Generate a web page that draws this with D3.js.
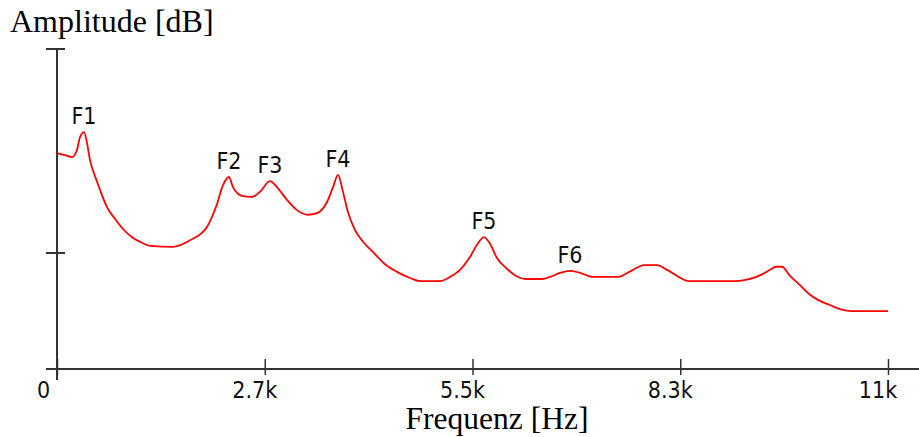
<!DOCTYPE html>
<html>
<head>
<meta charset="utf-8">
<script src="https://cdn.jsdelivr.net/npm/d3@7/dist/d3.min.js"></script>
<style>
  html, body { margin: 0; padding: 0; background: #fff; }
  svg { display: block; }
</style>
</head>
<body>
<div id="chart"></div>
<script>

// spectrum envelope (Hz / dB)
var freqs = [0, 106, 199, 265, 305, 358, 398, 438, 504, 570, 663, 769, 876, 995, 1101, 1234, 1539, 1765, 1990,
	2123, 2202, 2282, 2335, 2454, 2587, 2693, 2826, 2919, 3051, 3184, 3330, 3449, 3582, 3662, 3728,
	3794, 3861, 3954, 4060, 4192, 4352, 4511, 4683, 4816, 5081, 5214, 5347, 5479, 5572, 5665, 5745,
	5837, 5970, 6116, 6222, 6434, 6541, 6673, 6806, 6939, 7111, 7443, 7642, 7788, 7960, 8093, 8385,
	9022, 9194, 9367, 9459, 9539, 9619, 9725, 9857, 9990, 10096, 10255, 10388, 10547, 11025];
var amps = [-20.4, -20.8, -21.2, -19.8, -17.3, -16.3, -18.4, -21.8, -24.9, -27.6, -31.0, -33.3, -35.3, -36.9, -37.8, -38.6, -38.8, -37.5, -34.9,
	-30.4, -26.7, -25.1, -27.1, -28.8, -29.0, -28.0, -25.9, -27.1, -29.6, -31.6, -32.5, -32.2, -30.0, -27.1, -24.7,
	-28.0, -32.0, -35.5, -37.8, -39.8, -42.2, -43.7, -44.9, -45.5, -45.5, -44.7, -43.3, -40.8, -38.4, -36.9, -38.2,
	-41.0, -43.1, -44.7, -45.1, -45.1, -44.7, -43.9, -43.5, -43.9, -44.7, -44.7, -43.3, -42.4, -42.4, -43.3, -45.5,
	-45.5, -45.1, -44.1, -43.3, -42.7, -42.7, -44.5, -46.3, -48.2, -49.2, -50.2, -51.0, -51.4, -51.4];

var formantNames = ["F1", "F2", "F3", "F4", "F5", "F6"];
var formantFreqs = [358, 2282, 2826, 3728, 5665, 6806];

var xTickValues = [0, 2756.25, 5512.5, 8268.75, 11025];
var xTickLabels = ["0", "2.7k", "5.5k", "8.3k", "11k"];
var yTickValues = [-40, 0];

var width = 919, height = 437;
var smallFont = "'Liberation Sans Narrow', 'DejaVu Sans Condensed', 'DejaVu Sans', sans-serif";
var serifFont = "'Liberation Serif', 'Times New Roman', serif";
var axisColor = "#333";

var svg = d3.select("#chart").append("svg")
	.attr("width", width)
	.attr("height", height);

// scales (x: 0..11025 Hz, y: dB)
var x = d3.scaleLinear().domain([0, 11025]).range([57, 888]);
var y = d3.scaleLinear().domain([-62.75, 0]).range([369, 49]);

// y axis line + ticks
svg.append("line")
	.attr("x1", x(0)).attr("x2", x(0))
	.attr("y1", y(0)).attr("y2", y.range()[0] + 11)
	.attr("stroke", axisColor).attr("stroke-width", 2);

svg.selectAll(".ytick").data(yTickValues).enter().append("line")
	.attr("class", "ytick")
	.attr("x1", x(0) - 11).attr("x2", x(0) + 8)
	.attr("y1", function(d){ return y(d); })
	.attr("y2", function(d){ return y(d); })
	.attr("stroke", axisColor).attr("stroke-width", 2);

// x axis
var xAxis = d3.axisBottom(x)
	.tickValues(xTickValues)
	.tickSize(0)
	.tickFormat(function(d, i){ return xTickLabels[i]; });

var gx = svg.append("g")
	.attr("transform", "translate(0," + y.range()[0] + ")")
	.call(xAxis);

gx.select(".domain").remove();
gx.append("line")
	.attr("x1", x(0) - 11).attr("x2", width)
	.attr("y1", 0).attr("y2", 0)
	.attr("stroke", axisColor).attr("stroke-width", 2);

gx.selectAll(".tick line")
	.attr("y1", -10).attr("y2", 6)
	.attr("stroke", axisColor).attr("stroke-width", 1.5);

gx.selectAll(".tick text")
	.attr("y", 29)
	.attr("dy", null)
	.attr("dx", function(d, i){ return i === 0 ? -14 : -10.5; })
	.attr("fill", "#111")
	.style("font-family", smallFont)
	.style("font-size", "23px");

// spectrum line
var points = freqs.map(function(f, i){ return [f, amps[i]]; });
var line = d3.line()
	.curve(d3.curveMonotoneX)
	.x(function(d){ return x(d[0]); })
	.y(function(d){ return y(d[1]); });

svg.append("path")
	.datum(points)
	.attr("d", line)
	.attr("fill", "none")
	.attr("stroke", "#ff0000")
	.attr("stroke-width", 1.8)
	.attr("stroke-linejoin", "round");

// formant labels sit just above their peaks
svg.selectAll(".formant").data(formantNames).enter().append("text")
	.attr("class", "formant")
	.attr("x", function(d, i){ return x(formantFreqs[i]); })
	.attr("y", function(d, i){ return y(amps[freqs.indexOf(formantFreqs[i])]) - 8; })
	.attr("text-anchor", "middle")
	.attr("fill", "#111")
	.style("font-family", smallFont)
	.style("font-size", "23px")
	.text(function(d){ return d; });

// axis titles
svg.append("text")
	.attr("x", 10).attr("y", 32)
	.style("font-family", serifFont)
	.style("font-size", "32px")
	.text("Amplitude [dB]");

svg.append("text")
	.attr("x", 497).attr("y", 429)
	.attr("text-anchor", "middle")
	.style("font-family", serifFont)
	.style("font-size", "31.5px")
	.text("Frequenz [Hz]");

</script>
</body>
</html>
